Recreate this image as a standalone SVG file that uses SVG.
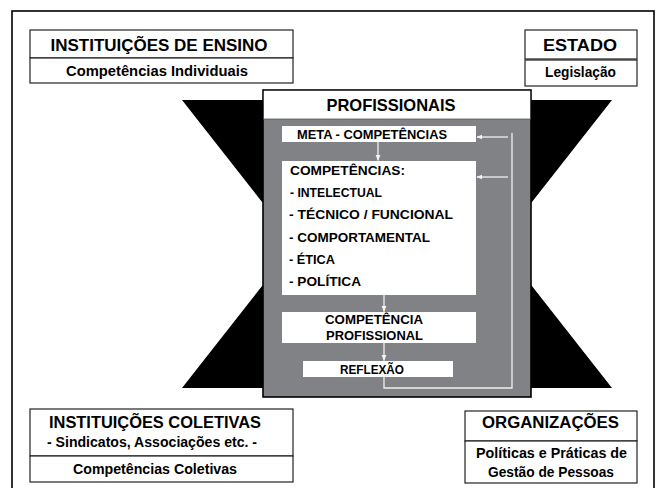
<svg xmlns="http://www.w3.org/2000/svg" width="657" height="488" viewBox="0 0 657 488">
<defs>
<marker id="ah" viewBox="0 0 10 10" refX="9" refY="5" markerWidth="6" markerHeight="6" markerUnits="userSpaceOnUse" orient="auto">
<path d="M0,1 L10,5 L0,9 z" fill="#f2f2f2"/>
</marker>
<style>
text{font-family:"Liberation Sans",Arial,sans-serif;font-weight:bold;fill:#000}
.box{fill:#fff;stroke:#222;stroke-width:1.2}
.inner{fill:#fff;stroke:none}
.t{font-size:16px}
.s{font-size:14px}
.c{font-size:13px}
.m{text-anchor:middle}
.flow{stroke:#f0f0f0;stroke-width:1.3;fill:none}
</style>
</defs>
<rect x="0" y="0" width="657" height="488" fill="#fff"/>
<rect id="frame" x="12" y="11" width="642" height="490" fill="none" stroke="#000" stroke-width="1.6"/>
<polygon id="hourglass" points="182,100 612,100 499,244 612,388 182,388 295,244" fill="#000"/>

<g id="instituicoes-ensino">
<rect class="box" x="30" y="30" width="263" height="28"/>
<rect class="box" x="30" y="58" width="263" height="25"/>
<text class="t m" x="159" y="50.5" textLength="217" lengthAdjust="spacingAndGlyphs">INSTITUIÇÕES DE ENSINO</text>
<text class="s m" x="157" y="76" textLength="182" lengthAdjust="spacingAndGlyphs">Competências Individuais</text>
</g>

<g id="estado">
<rect class="box" x="525" y="30" width="112" height="29"/>
<rect class="box" x="525" y="60" width="112" height="26"/>
<text class="t m" x="580" y="50.5" textLength="74" lengthAdjust="spacingAndGlyphs">ESTADO</text>
<text class="s m" x="580.5" y="77" textLength="71" lengthAdjust="spacingAndGlyphs">Legislação</text>
</g>

<g id="profissionais">
<rect x="263" y="90" width="268" height="307" fill="#818285" stroke="#000" stroke-width="1.6"/>
<rect x="263.8" y="90.8" width="266.4" height="28.2" fill="#fff"/>
<line x1="263" y1="119" x2="531" y2="119" stroke="#555" stroke-width="0.8"/>
<text class="m" x="391" y="111" font-size="17" textLength="129" lengthAdjust="spacingAndGlyphs">PROFISSIONAIS</text>
</g>

<g id="meta-competencias">
<rect class="inner" x="282" y="126" width="194" height="16"/>
<text class="c m" x="372" y="138.5" font-size="12.5" textLength="150" lengthAdjust="spacingAndGlyphs">META - COMPETÊNCIAS</text>
</g>

<g id="competencias">
<rect class="inner" x="282" y="161" width="194" height="134"/>
<text class="c" x="290" y="175" textLength="115" lengthAdjust="spacingAndGlyphs">COMPETÊNCIAS:</text>
<text class="c" x="290" y="197" textLength="92" lengthAdjust="spacingAndGlyphs">- INTELECTUAL</text>
<text class="c" x="289" y="219" textLength="164" lengthAdjust="spacingAndGlyphs">- TÉCNICO / FUNCIONAL</text>
<text class="c" x="289" y="242" textLength="141" lengthAdjust="spacingAndGlyphs">- COMPORTAMENTAL</text>
<text class="c" x="289" y="264" textLength="46" lengthAdjust="spacingAndGlyphs">- ÉTICA</text>
<text class="c" x="289" y="286" textLength="72" lengthAdjust="spacingAndGlyphs">- POLÍTICA</text>
</g>

<g id="competencia-profissional">
<rect class="inner" x="282" y="312" width="194" height="31"/>
<text class="c m" x="374" y="324" textLength="98" lengthAdjust="spacingAndGlyphs">COMPETÊNCIA</text>
<text class="c m" x="374.5" y="340" textLength="97" lengthAdjust="spacingAndGlyphs">PROFISSIONAL</text>
</g>

<g id="reflexao">
<rect class="inner" x="303" y="361" width="150" height="16"/>
<text class="c m" x="372" y="373.5" textLength="64" lengthAdjust="spacingAndGlyphs">REFLEXÃO</text>
</g>

<g id="connectors">
<line class="flow" x1="378" y1="142" x2="378" y2="160.5" marker-end="url(#ah)"/>
<line class="flow" x1="384" y1="295" x2="384" y2="311.5" marker-end="url(#ah)"/>
<line class="flow" x1="384" y1="343" x2="384" y2="360.5" marker-end="url(#ah)"/>
<polyline class="flow" points="384,377 384,388 512,388 512,133"/>
<line class="flow" x1="508" y1="137" x2="477" y2="137" marker-end="url(#ah)"/>
<line class="flow" x1="508" y1="177" x2="477" y2="177" marker-end="url(#ah)"/>
</g>

<g id="instituicoes-coletivas">
<rect class="box" x="30" y="409" width="263" height="47"/>
<rect class="box" x="30" y="456" width="263" height="26"/>
<text class="t m" x="155" y="428" font-size="15.5" textLength="212" lengthAdjust="spacingAndGlyphs">INSTITUIÇÕES COLETIVAS</text>
<text class="s m" x="152" y="447" font-size="13.5" textLength="210" lengthAdjust="spacingAndGlyphs">- Sindicatos, Associações etc. -</text>
<text class="s m" x="155" y="474" font-size="13.5" textLength="164" lengthAdjust="spacingAndGlyphs">Competências Coletivas</text>
</g>

<g id="organizacoes">
<rect class="box" x="465" y="411" width="172" height="30"/>
<rect class="box" x="465" y="441" width="172" height="42"/>
<text class="t m" x="550.5" y="428" font-size="15.5" textLength="137" lengthAdjust="spacingAndGlyphs">ORGANIZAÇÕES</text>
<text class="s m" x="551.5" y="458" font-size="13.5" textLength="151" lengthAdjust="spacingAndGlyphs">Políticas e Práticas de</text>
<text class="s m" x="551" y="477" font-size="13.5" textLength="126" lengthAdjust="spacingAndGlyphs">Gestão de Pessoas</text>
</g>
</svg>
